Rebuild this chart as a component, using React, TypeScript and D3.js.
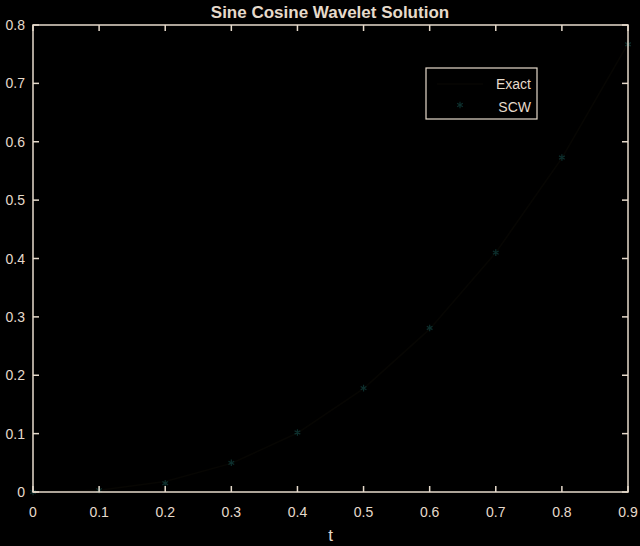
import { useEffect, useRef } from "react";
import { select, scaleLinear, line as d3line, symbol, symbolAsterisk } from "d3";

const tValues = [0, 0.1, 0.2, 0.3, 0.4, 0.5, 0.6, 0.7, 0.8, 0.9];
const exactValues = [0, 0.003, 0.018, 0.049, 0.101, 0.177, 0.279, 0.41, 0.572, 0.768];
const scwValues = [0, 0.003, 0.015, 0.05, 0.102, 0.178, 0.281, 0.41, 0.573, 0.767];
const xTicks = [0, 0.1, 0.2, 0.3, 0.4, 0.5, 0.6, 0.7, 0.8, 0.9];
const yTicks = [0, 0.1, 0.2, 0.3, 0.4, 0.5, 0.6, 0.7, 0.8];
const legendLabels = ["Exact", "SCW"];

const WIDTH = 640;
const HEIGHT = 546;
const AXIS = "#e6dacb";
const EXACT = "#070603";
const SCW = "#0d2f2d";
const FONT = "'Liberation Sans', Arial, sans-serif";

export default function App() {
  const svgRef = useRef<SVGSVGElement>(null);

  useEffect(() => {
    document.body.style.margin = "0";
    document.body.style.background = "#000";

    const svg = select(svgRef.current);
    svg.selectAll("*").remove();

    const left = 33;
    const right = 628;
    const top = 25;
    const bottom = 492;

    const x = scaleLinear().domain([0, 0.9]).range([left, right]);
    const y = scaleLinear().domain([0, 0.8]).range([bottom, top]);

    svg.append("rect").attr("width", WIDTH).attr("height", HEIGHT).attr("fill", "#000");

    // --- Exact curve (almost black in the original) ---
    const lineGen = d3line<number>()
      .x((_, i) => x(tValues[i]))
      .y((d) => y(d));
    svg
      .append("path")
      .datum(exactValues)
      .attr("fill", "none")
      .attr("stroke", EXACT)
      .attr("stroke-width", 1.5)
      .attr("d", lineGen);

    // --- SCW markers ---
    const marker = symbol().type(symbolAsterisk).size(30);
    svg
      .append("g")
      .selectAll("path")
      .data(scwValues)
      .join("path")
      .attr("transform", (d, i) => `translate(${x(tValues[i])},${y(d)})`)
      .attr("d", marker)
      .attr("fill", "none")
      .attr("stroke", SCW)
      .attr("stroke-width", 1.2);

    // --- Box and ticks ---
    const axisG = svg.append("g").attr("stroke", AXIS).attr("stroke-width", 1.5);
    axisG
      .append("rect")
      .attr("x", left)
      .attr("y", top)
      .attr("width", right - left)
      .attr("height", bottom - top)
      .attr("fill", "none");

    xTicks.forEach((t) => {
      axisG.append("line").attr("x1", x(t)).attr("x2", x(t)).attr("y1", bottom).attr("y2", bottom - 6);
      axisG.append("line").attr("x1", x(t)).attr("x2", x(t)).attr("y1", top).attr("y2", top + 6);
    });
    yTicks.forEach((v) => {
      axisG.append("line").attr("x1", left).attr("x2", left + 6).attr("y1", y(v)).attr("y2", y(v));
      axisG.append("line").attr("x1", right).attr("x2", right - 6).attr("y1", y(v)).attr("y2", y(v));
    });

    const labels = svg.append("g").attr("fill", AXIS).attr("font-family", FONT).attr("font-size", 14);
    xTicks.forEach((t) => {
      labels
        .append("text")
        .attr("x", x(t))
        .attr("y", bottom + 25)
        .attr("text-anchor", "middle")
        .text(t === 0 ? "0" : t.toFixed(1));
    });
    yTicks.forEach((v) => {
      labels
        .append("text")
        .attr("x", left - 8)
        .attr("y", y(v) + 5)
        .attr("text-anchor", "end")
        .text(v === 0 ? "0" : v.toFixed(1));
    });

    labels
      .append("text")
      .attr("x", (left + right) / 2)
      .attr("y", 541)
      .attr("text-anchor", "middle")
      .attr("font-size", 17)
      .text("t");

    svg
      .append("text")
      .attr("x", 330)
      .attr("y", 18)
      .attr("text-anchor", "middle")
      .attr("fill", AXIS)
      .attr("font-family", FONT)
      .attr("font-weight", "bold")
      .attr("font-size", 17)
      .text("Sine Cosine Wavelet Solution");

    // --- Legend ---
    const lg = svg.append("g");
    lg.append("rect")
      .attr("x", 426)
      .attr("y", 68)
      .attr("width", 111)
      .attr("height", 51)
      .attr("fill", "#000")
      .attr("stroke", AXIS)
      .attr("stroke-width", 1.2);
    lg.append("line")
      .attr("x1", 437)
      .attr("x2", 483)
      .attr("y1", 84)
      .attr("y2", 84)
      .attr("stroke", EXACT)
      .attr("stroke-width", 1.5);
    lg.append("path")
      .attr("transform", "translate(460,105)")
      .attr("d", marker)
      .attr("fill", "none")
      .attr("stroke", SCW)
      .attr("stroke-width", 1.2);
    legendLabels.forEach((name, i) => {
      lg.append("text")
        .attr("x", 531)
        .attr("y", 89 + i * 23)
        .attr("text-anchor", "end")
        .attr("fill", AXIS)
        .attr("font-family", FONT)
        .attr("font-size", 14)
        .text(name);
    });
  }, []);

  return (
    <svg
      ref={svgRef}
      width={WIDTH}
      height={HEIGHT}
      style={{ position: "absolute", left: 0, top: 0, display: "block" }}
    />
  );
}
